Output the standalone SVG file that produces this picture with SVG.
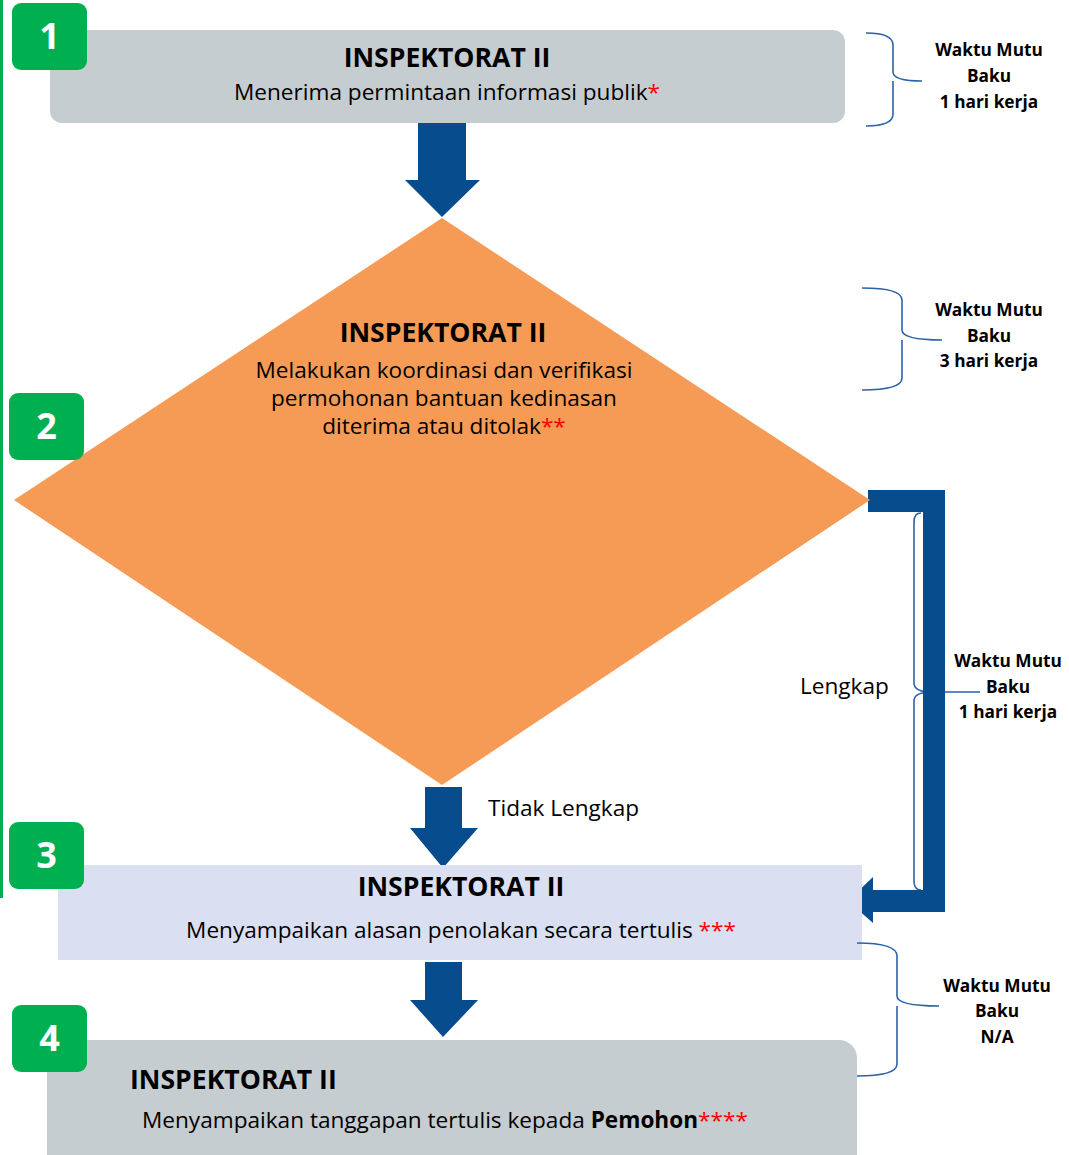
<svg xmlns="http://www.w3.org/2000/svg" width="1069" height="1155" viewBox="0 0 1069 1155">
<style>
.t{font-family:"Open Sans","Liberation Sans",sans-serif;fill:#000}
.h{font-size:26.6px;font-weight:bold}
.b{font-size:22.6px}
.w{font-size:17.3px;font-weight:bold}
.r{fill:#FF0000}
.num{font-family:"Open Sans","Liberation Sans",sans-serif;font-size:36px;font-weight:bold;fill:#fff}
.badge{fill:#00B050}
.arr{fill:#074C8C}
.br{fill:none;stroke:#2A63A8;stroke-width:1.6}
</style>
<rect width="1069" height="1155" fill="#fff"/>
<rect x="0" y="0" width="3" height="898" fill="#00B050"/>

<g id="connectors">
<polygon class="arr" points="418,123 466,123 466,180 480,180 442,217 405,180 418,180"/>
<polygon class="arr" points="425,787 462,787 462,828 478,828 443,868 410,828 425,828"/>
<polygon class="arr" points="425,962 462,962 462,1000 478,1000 443,1037 410,1000 425,1000"/>
<path class="br" d="M921 513 Q914 513 914 522 V683 Q914 692 932 692 H980 M932 692 Q914 692 914 701 V881 Q914 890 921 890"/>
<polygon class="arr" points="868,490 945,490 945,912 873,912 873,923 848,901 873,877 873,890 923,890 923,512 868,512"/>
<text class="t b" x="800" y="694">Lengkap</text>
<text class="t b" x="488" y="816">Tidak Lengkap</text>
</g>

<g id="node1">
<rect x="50" y="30" width="795" height="93" rx="12" fill="#C6CDD1"/>
<text class="t h" x="447" y="67" text-anchor="middle">INSPEKTORAT II</text>
<text class="t b" x="447" y="100" text-anchor="middle">Menerima permintaan informasi publik<tspan class="r">*</tspan></text>
</g>
<g id="badge1">
<rect class="badge" x="12" y="3" width="75" height="67" rx="9"/>
<text class="num" x="49.5" y="49" text-anchor="middle">1</text>
</g>

<g id="node2">
<polygon points="442,218 870,500 442,785 14,500" fill="#F59B55"/>
<text class="t h" x="443" y="342" text-anchor="middle">INSPEKTORAT II</text>
<text class="t b" x="444" y="378" text-anchor="middle">Melakukan koordinasi dan verifikasi</text>
<text class="t b" x="444" y="406" text-anchor="middle">permohonan bantuan kedinasan</text>
<text class="t b" x="444" y="434" text-anchor="middle">diterima atau ditolak<tspan class="r">**</tspan></text>
</g>
<g id="badge2">
<rect class="badge" x="9" y="393" width="75" height="67" rx="9"/>
<text class="num" x="46.5" y="439" text-anchor="middle">2</text>
</g>

<g id="node3">
<rect x="58" y="865" width="804" height="95" fill="#DAE0F2"/>
<text class="t h" x="461" y="896" text-anchor="middle">INSPEKTORAT II</text>
<text class="t b" x="461" y="938" text-anchor="middle">Menyampaikan alasan penolakan secara tertulis <tspan class="r">***</tspan></text>
</g>
<g id="badge3">
<rect class="badge" x="9" y="822" width="75" height="67" rx="9"/>
<text class="num" x="46.5" y="868" text-anchor="middle">3</text>
</g>

<g id="node4">
<rect x="47" y="1040" width="810" height="140" rx="18" fill="#C6CDD1"/>
<text class="t h" x="130" y="1089">INSPEKTORAT II</text>
<text class="t b" x="142" y="1128">Menyampaikan tanggapan tertulis kepada <tspan font-weight="bold">Pemohon</tspan><tspan class="r">****</tspan></text>
</g>
<g id="badge4">
<rect class="badge" x="12" y="1005" width="75" height="67" rx="9"/>
<text class="num" x="49.5" y="1051" text-anchor="middle">4</text>
</g>

<g id="time1">
<path class="br" d="M866 33 Q893 33 893 45 V72 Q893 81 922 81 M893 81 Q893 81 893 90 V114 Q893 126 866 126"/>
<text class="t w" x="989" y="56" text-anchor="middle">Waktu Mutu</text>
<text class="t w" x="989" y="82" text-anchor="middle">Baku</text>
<text class="t w" x="989" y="108" text-anchor="middle">1 hari kerja</text>
</g>
<g id="time2">
<path class="br" d="M862 288 Q902 288 902 300 V330 Q902 340 942 340 M902 340 Q902 340 902 350 V378 Q902 390 862 390"/>
<text class="t w" x="989" y="316" text-anchor="middle">Waktu Mutu</text>
<text class="t w" x="989" y="342" text-anchor="middle">Baku</text>
<text class="t w" x="989" y="367" text-anchor="middle">3 hari kerja</text>
</g>
<g id="time3">
<text class="t w" x="1008" y="667" text-anchor="middle">Waktu Mutu</text>
<text class="t w" x="1008" y="693" text-anchor="middle">Baku</text>
<text class="t w" x="1008" y="718" text-anchor="middle">1 hari kerja</text>
</g>
<g id="time4">
<path class="br" d="M857 943 Q897 943 897 956 V996 Q897 1006 939 1006 M897 1006 Q897 1006 897 1016 V1064 Q897 1076 857 1076"/>
<text class="t w" x="997" y="992" text-anchor="middle">Waktu Mutu</text>
<text class="t w" x="997" y="1017" text-anchor="middle">Baku</text>
<text class="t w" x="997" y="1043" text-anchor="middle">N/A</text>
</g>
</svg>
